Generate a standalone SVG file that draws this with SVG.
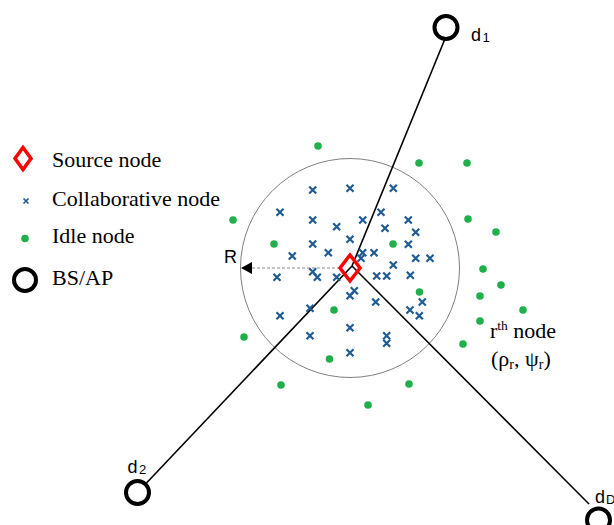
<svg xmlns="http://www.w3.org/2000/svg" width="614" height="525" viewBox="0 0 614 525">
<defs>
<style>
.x{stroke:#1f5b94;stroke-width:2.2;fill:none;stroke-linecap:butt}
.idle{fill:#1fb04b}
.bs{fill:none;stroke:#000;stroke-width:4}
.link{stroke:#000;stroke-width:1.6;fill:none}
.src{fill:none;stroke:#ff0000;stroke-width:3.5;stroke-linejoin:miter}
.serif{font-family:"Liberation Serif","Times New Roman",serif;fill:#000}
.sans{font-family:"Liberation Sans",Arial,sans-serif;fill:#000}
</style>
<path id="cx" d="M-3.5,-3.5L3.5,3.5M-3.5,3.5L3.5,-3.5"/>
</defs>
<rect width="614" height="525" fill="#fff"/>

<g id="coverage">
<circle cx="350" cy="268" r="109.5" fill="none" stroke="#7f7f7f" stroke-width="1"/>
</g>

<g id="radius">
<line x1="252" y1="268" x2="338" y2="268" stroke="#8c8c8c" stroke-width="1.2" stroke-dasharray="3,2"/>
<path d="M241,268 L252,262 L252,274 Z" fill="#000"/>
<text class="sans" x="224" y="263" font-size="18">R</text>
</g>

<g id="connectors">
<line class="link" x1="444.5" y1="40" x2="352" y2="266"/>
<line class="link" x1="146.5" y1="483" x2="352" y2="266"/>
<line class="link" x1="352" y1="266" x2="589" y2="504"/>
</g>

<g id="collaborative-nodes">
<use href="#cx" class="x" x="312.7" y="190"/>
<use href="#cx" class="x" x="350" y="188.3"/>
<use href="#cx" class="x" x="393.3" y="188.3"/>
<use href="#cx" class="x" x="280" y="212.3"/>
<use href="#cx" class="x" x="312.7" y="220"/>
<use href="#cx" class="x" x="336.7" y="226.7"/>
<use href="#cx" class="x" x="362.7" y="220"/>
<use href="#cx" class="x" x="381" y="212.3"/>
<use href="#cx" class="x" x="408.3" y="220"/>
<use href="#cx" class="x" x="385" y="228.3"/>
<use href="#cx" class="x" x="415.7" y="232.3"/>
<use href="#cx" class="x" x="312.7" y="244"/>
<use href="#cx" class="x" x="350" y="239.3"/>
<use href="#cx" class="x" x="408.3" y="244.3"/>
<use href="#cx" class="x" x="292.3" y="256"/>
<use href="#cx" class="x" x="328.3" y="252.7"/>
<use href="#cx" class="x" x="362.7" y="252.7"/>
<use href="#cx" class="x" x="361" y="258.3"/>
<use href="#cx" class="x" x="374" y="252.7"/>
<use href="#cx" class="x" x="415.7" y="258.3"/>
<use href="#cx" class="x" x="430" y="258.3"/>
<use href="#cx" class="x" x="393.3" y="265"/>
<use href="#cx" class="x" x="277" y="277.3"/>
<use href="#cx" class="x" x="312.7" y="271.7"/>
<use href="#cx" class="x" x="317.3" y="277.3"/>
<use href="#cx" class="x" x="336.7" y="277.3"/>
<use href="#cx" class="x" x="376.7" y="276"/>
<use href="#cx" class="x" x="386.7" y="276"/>
<use href="#cx" class="x" x="410.3" y="275.3"/>
<use href="#cx" class="x" x="350" y="295.7"/>
<use href="#cx" class="x" x="354.3" y="290.7"/>
<use href="#cx" class="x" x="375.7" y="302"/>
<use href="#cx" class="x" x="422.3" y="302"/>
<use href="#cx" class="x" x="410" y="310"/>
<use href="#cx" class="x" x="419.3" y="315.7"/>
<use href="#cx" class="x" x="280" y="315.7"/>
<use href="#cx" class="x" x="310" y="308.3"/>
<use href="#cx" class="x" x="350" y="327.7"/>
<use href="#cx" class="x" x="310" y="335.7"/>
<use href="#cx" class="x" x="386.7" y="335.7"/>
<use href="#cx" class="x" x="386.7" y="343.3"/>
<use href="#cx" class="x" x="350" y="352.7"/>
</g>

<g id="idle-nodes">
<circle class="idle" cx="318" cy="146" r="3.8"/>
<circle class="idle" cx="419" cy="163" r="3.8"/>
<circle class="idle" cx="467" cy="163" r="3.8"/>
<circle class="idle" cx="233" cy="220" r="3.8"/>
<circle class="idle" cx="468" cy="219" r="3.8"/>
<circle class="idle" cx="274" cy="244" r="3.8"/>
<circle class="idle" cx="393" cy="244" r="3.8"/>
<circle class="idle" cx="496" cy="232" r="3.8"/>
<circle class="idle" cx="483" cy="269" r="3.8"/>
<circle class="idle" cx="501" cy="285" r="3.8"/>
<circle class="idle" cx="419.5" cy="292" r="3.8"/>
<circle class="idle" cx="480" cy="296" r="3.8"/>
<circle class="idle" cx="523" cy="310" r="3.8"/>
<circle class="idle" cx="480" cy="321" r="3.8"/>
<circle class="idle" cx="334" cy="310" r="3.8"/>
<circle class="idle" cx="244" cy="337" r="3.8"/>
<circle class="idle" cx="463" cy="344" r="3.8"/>
<circle class="idle" cx="329.5" cy="359" r="3.8"/>
<circle class="idle" cx="281" cy="385" r="3.8"/>
<circle class="idle" cx="409" cy="384" r="3.8"/>
<circle class="idle" cx="368" cy="405" r="3.8"/>
</g>

<g id="source-node">
<path class="src" d="M350,255 L360,268 L350,281 L340,268 Z"/>
</g>

<g id="d1">
<circle class="bs" cx="446" cy="27.5" r="11.5"/>
<text class="sans" x="471" y="41" font-size="18">d<tspan font-size="13" dx="1.5" dy="1">1</tspan></text>
</g>

<g id="d2">
<circle class="bs" cx="137.5" cy="492.5" r="11.5"/>
<text class="sans" x="127.5" y="473" font-size="18">d<tspan font-size="13" dx="1.5" dy="1">2</tspan></text>
</g>

<g id="dD">
<circle class="bs" cx="598.5" cy="520" r="11.5"/>
<text class="sans" x="595" y="502.5" font-size="18">d<tspan font-size="13" dx="1" dy="1">D</tspan></text>
</g>

<g id="rth-label">
<text class="serif" x="490" y="338" font-size="22">r<tspan font-size="13.5" dy="-8">th</tspan><tspan dy="8"> node</tspan></text>
<text class="serif" x="491" y="366" font-size="22">(ρ<tspan font-size="14" dy="3">r</tspan><tspan dy="-3">, ψ</tspan><tspan font-size="14" dy="3">r</tspan><tspan dy="-3">)</tspan></text>
</g>

<g id="legend">
<path class="src" d="M23,147.5 L31,158.5 L23,169.5 L15,158.5 Z"/>
<text class="serif" x="52" y="167" font-size="22">Source node</text>
<path d="M23.5,198.5L28.5,203.5M23.5,203.5L28.5,198.5" stroke="#1f5b94" stroke-width="1.7"/>
<text class="serif" x="52" y="206" font-size="22">Collaborative node</text>
<circle class="idle" cx="25" cy="238.5" r="3.8"/>
<text class="serif" x="52" y="243" font-size="22">Idle node</text>
<circle class="bs" cx="25" cy="280" r="11"/>
<text class="serif" x="52" y="285" font-size="22">BS/AP</text>
</g>
</svg>
